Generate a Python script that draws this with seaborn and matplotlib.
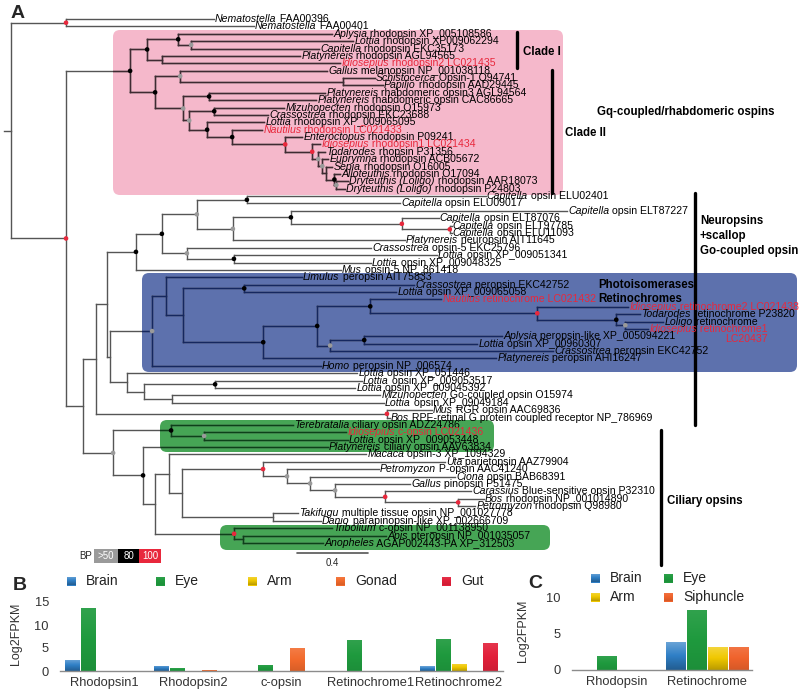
import re
import numpy as np
import pandas as pd
import matplotlib
matplotlib.use("Agg")
import matplotlib.pyplot as plt
import seaborn as sns
from matplotlib.collections import LineCollection
from matplotlib.patches import FancyBboxPatch, Rectangle
from matplotlib.colors import LinearSegmentedColormap, to_rgb

sns.set_theme(style="white")
plt.rcParams["font.family"] = ["Liberation Sans", "DejaVu Sans"]

# ------------------------------------------------------------------ data: tree
# Newick pieces (branch lengths in substitutions/site, internal labels = bootstrap)
SQUID_RHO = "(L19:0.039,(L20:0.034,(L21:0.034,(L22:0.034,(L23:0.068,L24:0.051)60:0.011)90:0.045):0.023)60:0.023)60:0.034"
CEPH_RHO = f"(L15:0.321,(L16:0.169,(L17:0.096,(L18:0.045,{SQUID_RHO})100:0.152)100:0.299)90:0.141)90:0.101"
CLADE1 = "((L3:0.868,(L4:0.913,L5:0.721)60:0.073)90:0.175,(L6:0.777,L7:1.003):0.085)90:0.096"
CLADE2 = (f"((L8:0.828,(L9:0.180,L10:0.225):0.918)60:0.141,((L11:0.654,L12:0.603)90:0.146,"
          f"((L13:0.394,L14:0.304)90:0.141,{CEPH_RHO})60:0.034)60:0.158)90:0.141")
GQ = f"({CLADE1},{CLADE2})90:0.361"

N_402 = "(L28:0.208,(L29:0.011,L30:0.011)100:0.270)100:0.625"
N_233 = f"((L27:1.555,{N_402})90:0.327,L31:0.969)60:0.203"
N_197 = f"((L25:1.346,L26:0.862)90:0.282,{N_233})60:0.197"
N_187 = "(L32:1.037,(L33:1.144,L34:0.772)90:0.265)60:0.141"
NEURO = f"(({N_197},{N_187})90:0.146,L35:1.155)90:0.163"

RETINO = "(L39:0.400,(L40:0.513,(L41:0.135,(L42:0.214,L43:0.130)60:0.051)90:0.445)100:0.941)90:0.299"
N_317 = f"({RETINO},((L44:0.777,L45:0.637)90:0.192,L46:1.256)60:0.073)90:0.304"
PERO = f"((L36:0.766,((L37:0.958,L38:0.856)90:0.344,({N_317},L47:1.313)90:0.451):0.096):0.079,L48:0.952)60:0.237"
GO = "(L49:1.296,((L50:0.828,L51:0.789)90:0.400,(L52:1.172,L53:1.194):0.158):0.096):0.096"
RGR = "(L54:0.254,L55:0.017)100:1.639"

VERT = "(L61:1.025,(L62:0.518,(L63:0.817,(L64:0.423,(L65:0.485,(L66:0.146,L67:0.096)100:0.411)100:0.282)60:0.141)60:0.130)60:0.135)100:0.456"
CIL = (f"((L56:0.687,(L57:0.800,L58:0.811)60:0.186)90:0.327,(L59:1.042,((L60:1.110,({VERT},"
       f"(L68:0.141,L69:0.270):0.513):0.073):0.079,(L70:0.552,(L71:0.806,L72:0.451):0.051)100:0.445):0.068)90:0.169)60:0.169")

N_110 = f"({PERO},{GO}):0.017"
N_107 = f"({NEURO},{N_110}):0.062"
N_96 = f"({N_107},{RGR}):0.073"
N_83 = f"({N_96},{CIL}):0.096"
TREE = f"((L1:0.834,L2:1.059)100:0.310,({GQ},{N_83})100:0.310):0.04;"

LEAF_GENUS = [
    "Nematostella", "Nematostella", "Aplysia", "Lottia", "Capitella", "Platynereis", "Idiosepius",
    "Gallus", "Schistocerca", "Papilio", "Platynereis", "Platynereis", "Mizuhopecten", "Crassostrea",
    "Lottia", "Nautilus", "Enteroctopus", "Idiosepius", "Todarodes", "Euprymna", "Sepia", "Alloteuthis",
    "Dryteuthis (Loligo)", "Dryteuthis (Loligo)",
    "Capitella", "Capitella", "Capitella", "Capitella", "Capitella", "Capitella", "Platynereis",
    "Crassostrea", "Lottia", "Lottia", "Mus",
    "Limulus", "Crassostrea", "Lottia", "Nautilus", "Idiosepius", "Todarodes", "Loligo", "Idiosepius",
    "Aplysia", "Lottia", "Crassostrea", "Platynereis", "Homo",
    "Lottia", "Lottia", "Lottia", "Mizuhopecten", "Lottia", "Mus", "Bos",
    "Terebratalia", "Idiosepius", "Lottia", "Platynereis", "Macaca", "Uta", "Petromyzon", "Ciona",
    "Gallus", "Carassius", "Bos", "Petromyzon", "Takifugu", "Danio", "Tribolium", "Apis", "Anopheles",
]
LEAF_REST = [
    "FAA00396", "FAA00401", "rhodopsin XP_005108586", "rhodopsin XP009062294", "rhodopsin EKC35173",
    "rhodopsin AGL94565", "rhodopsin2 LC021435", "melanopsin NP_001038118", "Opsin-1 Q94741",
    "rhodopsin AAD29445", "rhabdomeric opsin3 AGL94564", "rhabdomeric opsin CAC86665",
    "rhodopsin O15973", "rhodopsin EKC23688", "rhodopsin XP_009065095", "rhodopsin LC021433",
    "rhodopsin P09241", "rhodopsin1 LC021434", "rhopsin P31356", "rhodopsin ACB05672",
    "rhodopsin O16005", "rhodopsin O17094", "rhodopsin AAR18073", "rhodopsin P24803",
    "opsin ELU02401", "opsin ELU09017", "opsin ELT87227", "opsin ELT87076", "opsin ELT97785",
    "opsin ELU11093", "neuropsin AIT11645", "opsin-5 EKC25796", "opsin XP_009051341",
    "opsin XP_009048325", "opsin-5 NP_861418",
    "peropsin AIT75833", "peropsin EKC42752", "opsin XP_009065058", "retinochrome LC021432",
    "retinochrome2 LC021438", "retinochrome P23820", "retinochrome", "retinochrome1",
    "peropsin-like XP_005094221", "opsin XP_00960307", "peropsin EKC42752", "peropsin AHI16247",
    "peropsin NP_006574",
    "opsin XP_051446", "opsin XP_009053517", "opsin XP_009045392", "Go-coupled opsin O15974",
    "opsin XP_09049184", "RGR opsin AAC69836", "RPE-retinal G protein coupled receptor NP_786969",
    "ciliary opsin ADZ24786", "c-opsin LC021436", "opsin XP_009053448", "ciliary opsin AAV63834",
    "opsin-3 XP_1094329", "parietopsin AAZ79904", "P-opsin AAC41240", "opsin BAB68391",
    "pinopsin P51475", "Blue-sensitive opsin P32310", "rhodopsin NP_001014890", "rhodopsin Q98980",
    "multiple tissue opsin NP_001027778", "parapinopsin-like XP_002666709", "c-opsin NP_001138950",
    "pteropsin NP_001035057", "AGAP002443-PA XP_312503",
]
RED_LEAVES = [7, 16, 18, 39, 40, 43, 57]
SECOND_LINE = {43: "LC20437"}

# ------------------------------------------------------------------ data: bars
GENES_B = ["Rhodopsin1", "Rhodopsin2", "c-opsin", "Retinochrome1", "Retinochrome2"]
TISSUES_B = ["Brain", "Eye", "Arm", "Gonad", "Gut"]
BRAIN_B = [2.4, 1.1, 0.0, 0.0, 1.0]
EYE_B = [13.6, 0.6, 1.4, 6.8, 7.0]
ARM_B = [0.0, 0.0, 0.0, 0.0, 1.6]
GONAD_B = [0.0, 0.2, 4.9, 0.0, 0.0]
GUT_B = [0.0, 0.0, 0.0, 0.0, 6.1]

GENES_C = ["Rhodopsin", "Retinochrome"]
TISSUES_C = ["Brain", "Eye", "Arm", "Siphuncle"]
BRAIN_C = [0.0, 3.9]
EYE_C = [1.9, 8.4]
ARM_C = [0.0, 3.2]
SIPH_C = [0.0, 3.2]

TISSUE_COLORS = {"Brain": "#2f7fc6", "Eye": "#1f9a3e", "Arm": "#f0c800",
                 "Gonad": "#f26a2c", "Gut": "#e2203a", "Siphuncle": "#f0632c"}
GRADIENT_STRENGTH = {"Brain": 0.3, "Eye": 0.08, "Arm": 0.25, "Gonad": 0.12, "Gut": 0.1,
                     "Siphuncle": 0.12}
RED = "#e8283c"

# ------------------------------------------------------------------ helpers
def parse_newick(s):
    s = s.strip().rstrip(";")
    pos = 0

    def node():
        nonlocal pos
        children = []
        if s[pos] == "(":
            pos += 1
            children.append(node())
            while s[pos] == ",":
                pos += 1
                children.append(node())
            pos += 1  # ')'
        m = re.match(r"([A-Za-z0-9_]*)(?::([0-9.]+))?", s[pos:])
        pos += m.end()
        return {"name": m.group(1), "len": float(m.group(2) or 0.0), "children": children}

    return node()


tree = parse_newick(TREE)
counter = [0]


def layout(nd, x):
    nd["x"] = x
    if not nd["children"]:
        nd["y"] = counter[0]
        counter[0] += 1
    else:
        for c in nd["children"]:
            layout(c, x + c["len"])
        nd["y"] = (nd["children"][0]["y"] + nd["children"][-1]["y"]) / 2


layout(tree, 0.0)

segs, dots, leaves = [], [], []


def collect(nd):
    if nd["children"]:
        ys = [c["y"] for c in nd["children"]]
        segs.append([(nd["x"], min(ys)), (nd["x"], max(ys))])
        for c in nd["children"]:
            segs.append([(nd["x"], c["y"]), (c["x"], c["y"])])
            collect(c)
        if nd["name"]:
            dots.append((nd["x"], nd["y"], int(nd["name"])))
    else:
        leaves.append(nd)


collect(tree)
segs.append([(-tree["len"], tree["y"]), (0.0, tree["y"])])


def gradient_cmap(color, k):
    r, g, b = to_rgb(color)
    light = tuple((1 - k) * c + k for c in (r, g, b))
    dark = tuple((1 - 0.9 * k) * c for c in (r, g, b))
    return LinearSegmentedColormap.from_list("grad", [dark, (r, g, b), light])


GRAD = np.linspace(0, 1, 64).reshape(-1, 1)


def fill_gradient(ax, patch, name, flip=False):
    x0, y0 = patch.get_x(), patch.get_y()
    w, h = patch.get_width(), patch.get_height()
    if h == 0 or w == 0:
        return
    im = ax.imshow(GRAD[::-1] if flip else GRAD, extent=[x0, x0 + w, y0, y0 + h],
                   origin="lower", aspect="auto",
                   cmap=gradient_cmap(TISSUE_COLORS[name], GRADIENT_STRENGTH[name]),
                   interpolation="bilinear", zorder=patch.get_zorder() + 0.1)
    im.set_clip_path(patch)


# ------------------------------------------------------------------ figure
W, H = 800, 694
fig = plt.figure(figsize=(W / 100, H / 100), dpi=100)

deco = fig.add_axes([0, 0, 1, 1], zorder=0)
deco.set_xlim(0, W)
deco.set_ylim(H, 0)
deco.set_axis_off()

tax = fig.add_axes([0, 0, 1, 1], zorder=1)
PX_PER_UNIT = 177.5
LEAF_STEP = 7.38
ROOT_PX, TOP_PX = 11, 19
tax.set_xlim(-ROOT_PX / PX_PER_UNIT, (W - ROOT_PX) / PX_PER_UNIT)
tax.set_ylim((H - TOP_PX) / LEAF_STEP, -TOP_PX / LEAF_STEP)
tax.set_axis_off()
tax.patch.set_alpha(0)

# coloured clade boxes (pixel frame)
BOXES = [
    ((113, 30, 563, 195), "#f5b8cb", "#3e2b32"),
    ((142, 273, 797, 372), "#5d71ad", "#15275f"),
    ((160, 420, 494, 452), "#46a555", "#0d4019"),
    ((220, 525, 550, 550), "#46a555", "#0d4019"),
]
box_patches = []
for (x0, y0, x1, y1), fc, _ in BOXES:
    p = FancyBboxPatch((x0, y0), x1 - x0, y1 - y0,
                       boxstyle="round,pad=0,rounding_size=7", fc=fc, ec="none", zorder=0)
    deco.add_patch(p)
    box_patches.append(p)

# tree branches
tax.add_collection(LineCollection(segs, colors="#555555", linewidths=1.0,
                                  capstyle="projecting", zorder=2))
for p, (_, _, lc) in zip(box_patches, BOXES):
    coll = LineCollection(segs, colors=lc, linewidths=1.0, capstyle="projecting", zorder=2.1)
    tax.add_collection(coll)
    coll.set_clip_path(p)

# bootstrap dots
def sup_color(v):
    if v >= 100:
        return RED
    if v >= 80:
        return "black"
    if v > 50:
        return "#9a9a9a"
    return None

dx = [d[0] for d in dots if sup_color(d[2])]
dy = [d[1] for d in dots if sup_color(d[2])]
dc = [sup_color(d[2]) for d in dots if sup_color(d[2])]
tax.scatter(dx, dy, s=11, c=dc, linewidths=0, zorder=3)

# leaf labels
LFS = 7.6
for lf in leaves:
    k = int(lf["name"][1:])
    col = RED if k in RED_LEAVES else "black"
    t1 = tax.text(lf["x"] + 0.006, lf["y"], LEAF_GENUS[k - 1], style="italic", fontsize=LFS,
                  color=col, va="center", ha="left", zorder=4)
    t2 = tax.annotate(" " + LEAF_REST[k - 1], xy=(1, 0.5), xycoords=t1, va="center", ha="left",
                      fontsize=LFS, color=col, zorder=4)
    if k in SECOND_LINE:
        tax.annotate(SECOND_LINE[k], xy=(1, 0), xycoords=t2, va="top", ha="right",
                     fontsize=LFS, color=col, zorder=4)

# scale bar (0.4 substitutions)
sb_x0 = (297 - ROOT_PX) / PX_PER_UNIT
sb_y = (553 - TOP_PX) / LEAF_STEP
tax.plot([sb_x0, sb_x0 + 0.4], [sb_y, sb_y], color="#555555", lw=1.2)
tax.text(sb_x0 + 0.2, sb_y + 1.35, "0.4", ha="center", va="center", fontsize=7)

# clade bars and labels
BOLD = dict(fontweight="bold", fontsize=8.3, va="center", ha="left", color="black")
for x, y0, y1 in [(517, 32, 68), (552, 70, 193), (695, 193, 425), (661, 430, 565)]:
    deco.plot([x, x], [y0, y1], color="black", lw=2.4, solid_capstyle="round", zorder=1)
deco.text(523, 52, "Clade I", **BOLD)
deco.text(565, 133, "Clade II", **BOLD)
deco.text(597, 112, "Gq-coupled/rhabdomeric ospins", **BOLD)
deco.text(700, 221, "Neuropsins", **BOLD)
deco.text(700, 236, "+scallop", **BOLD)
deco.text(700, 251, "Go-coupled opsin", **BOLD)
deco.text(598, 285, "Photoisomerases/", zorder=2, **BOLD)
deco.text(598, 299, "Retinochromes", zorder=2, **BOLD)
deco.text(667, 501, "Ciliary opsins", **BOLD)

# BP legend
deco.text(92, 556, "BP", ha="right", va="center", fontsize=7)
for (x0, x1), fc, lab in [((94, 118), "#9a9a9a", ">50"), ((118, 139), "black", "80"),
                          ((139, 161), RED, "100")]:
    deco.add_patch(Rectangle((x0, 549), x1 - x0, 14, fc=fc, ec="none"))
    deco.text((x0 + x1) / 2, 556, lab, ha="center", va="center", fontsize=7, color="white")

# panel letters
for x, y, s in [(18, 13, "A"), (20, 586, "B"), (535, 583, "C")]:
    deco.text(x, y, s, fontsize=14, fontweight="bold", ha="center", va="center")

# legends for B and C
def legend_item(xt, y, name):
    sq = Rectangle((xt - 19, y - 4.5), 9, 9, fc=TISSUE_COLORS[name], ec="none", zorder=1)
    deco.add_patch(sq)
    fill_gradient(deco, sq, name, flip=True)
    deco.text(xt, y, name, fontsize=10, va="center", ha="left", color="#222222")

for xt, name in zip([86, 175, 267, 355, 461], TISSUES_B):
    legend_item(xt, 581, name)
for (xt, y), name in zip([(610, 578), (683, 578), (610, 597), (683, 597)], TISSUES_C):
    legend_item(xt, y, name)
deco.set_xlim(0, W)
deco.set_ylim(H, 0)

# ------------------------------------------------------------------ bar charts
def long_df(genes, tissues, series):
    rows = []
    for t, vals in zip(tissues, series):
        for g, v in zip(genes, vals):
            rows.append({"gene": g, "tissue": t, "value": v})
    return pd.DataFrame(rows)


def style_bar_ax(ax, yticks, label_x):
    sns.despine(ax=ax, left=True)
    ax.spines["bottom"].set_color("#8c8c8c")
    ax.spines["bottom"].set_linewidth(1.0)
    ax.spines["bottom"].set_zorder(5)
    ax.set_yticks(yticks)
    ax.tick_params(axis="both", length=0, labelsize=9.3, colors="#333333")
    ax.tick_params(axis="x", pad=4)
    ax.tick_params(axis="y", pad=8)
    ax.set_xlabel("")
    ax.set_ylabel("Log2FPKM", fontsize=9, color="#333333")
    ax.yaxis.set_label_coords(label_x, 0.5)
    ax.patch.set_alpha(0)


def shade_bars(ax, tissues, n_genes):
    # seaborn draws hue levels in order; each level holds one bar per gene
    bars = [p for p in ax.patches if isinstance(p, Rectangle)]
    for i, bar in enumerate(bars):
        fill_gradient(ax, bar, tissues[i // n_genes])


dfB = long_df(GENES_B, TISSUES_B, [BRAIN_B, EYE_B, ARM_B, GONAD_B, GUT_B])
axB = fig.add_axes([60 / W, (H - 671) / H, 443 / W, 73.6 / H])
sns.barplot(data=dfB, x="gene", y="value", hue="tissue", order=GENES_B, hue_order=TISSUES_B,
            palette=TISSUE_COLORS, width=0.9, gap=0.1, saturation=1, linewidth=0,
            legend=False, ax=axB)
shade_bars(axB, TISSUES_B, len(GENES_B))
axB.set_xlim(-0.5, 4.5)
axB.set_ylim(0, 16)
style_bar_ax(axB, [0, 5, 10, 15], (22 - 60) / 443)

dfC = long_df(GENES_C, TISSUES_C, [BRAIN_C, EYE_C, ARM_C, SIPH_C])
axC = fig.add_axes([572 / W, (H - 670) / H, 180 / W, 79.2 / H])
sns.barplot(data=dfC, x="gene", y="value", hue="tissue", order=GENES_C, hue_order=TISSUES_C,
            palette=TISSUE_COLORS, width=0.93, gap=0.08, saturation=1, linewidth=0,
            legend=False, ax=axC)
shade_bars(axC, TISSUES_C, len(GENES_C))
axC.set_xlim(-0.5, 1.5)
axC.set_ylim(0, 11)
style_bar_ax(axC, [0, 5, 10], (529 - 572) / 180)

fig.savefig("out.png", dpi=100)
